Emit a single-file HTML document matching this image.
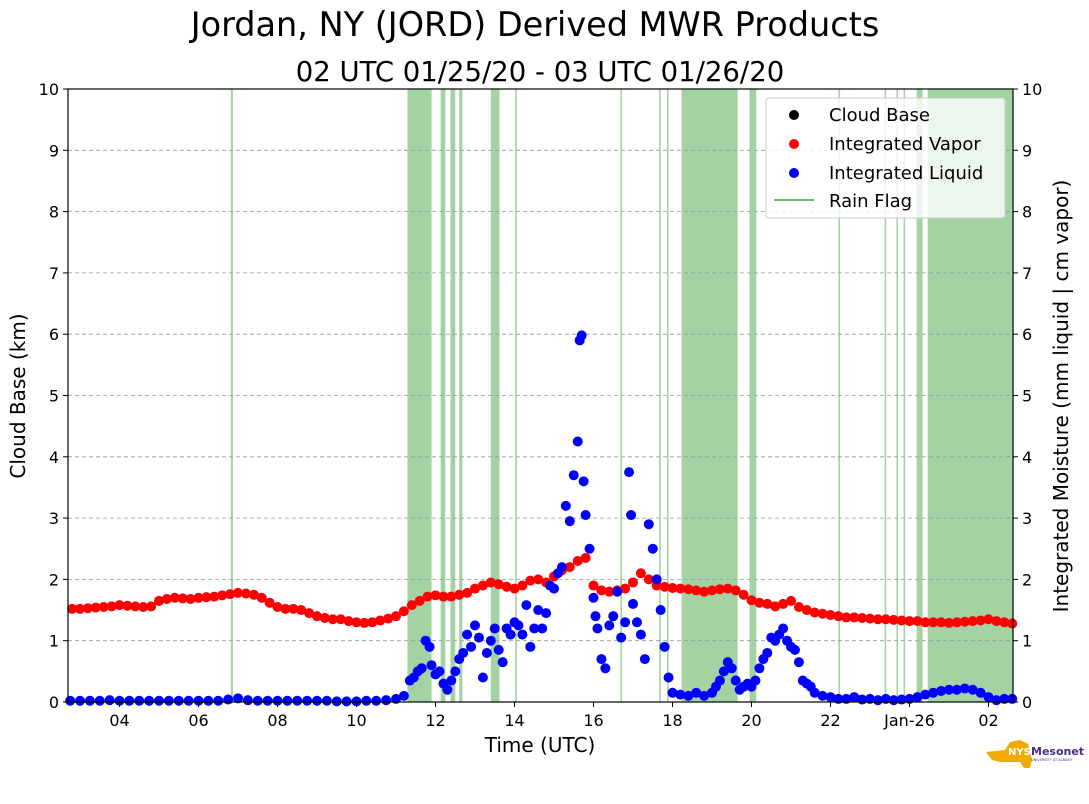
<!DOCTYPE html>
<html><head><meta charset="utf-8"><style>
html,body{margin:0;padding:0;background:#fff;}
svg{display:block;font-family:"DejaVu Sans","Liberation Sans",sans-serif;}
</style></head><body>
<svg id="chart" width="1089" height="804" viewBox="0 0 1089 804">
<text x="535" y="36" font-size="33.5" text-anchor="middle">Jordan, NY (JORD) Derived MWR Products</text>
<text x="540" y="81" font-size="27.5" text-anchor="middle">02 UTC 01/25/20 - 03 UTC 01/26/20</text>
<g id="bands"></g>
<g id="grid"></g>
<g id="marks"></g>
<rect x="68" y="89" width="945" height="613" fill="none" stroke="#000" stroke-width="1.2"/>
<g id="axes"></g>
<text x="540" y="752" font-size="20" text-anchor="middle">Time (UTC)</text>
<text transform="translate(25,396) rotate(-90)" font-size="20" text-anchor="middle">Cloud Base (km)</text>
<text transform="translate(1068,396) rotate(-90)" font-size="20" text-anchor="middle">Integrated Moisture (mm liquid | cm vapor)</text>
<g>
<rect x="766" y="98" width="239" height="120" rx="3" fill="#fff" fill-opacity="0.8" stroke="#ccc"/>
<g><circle cx="794" cy="115" r="5" fill="#000"/><text x="829" y="121" font-size="18">Cloud Base</text></g>
<g><circle cx="794" cy="144" r="5" fill="red"/><text x="829" y="150" font-size="18">Integrated Vapor</text></g>
<g><circle cx="794" cy="173" r="5" fill="blue"/><text x="829" y="179" font-size="18">Integrated Liquid</text></g>
<g><line x1="774" y1="200" x2="814" y2="200" stroke="#6abf69" stroke-width="2"/><text x="829" y="207" font-size="18">Rain Flag</text></g>
</g>
<g>
<path d="M986 752 L1005 750 L1010 742 L1020 740 L1028 744 L1032 760 L1030 768 L1024 768 L1020 762 L1000 762 L992 760 Z" fill="#f0ab00"/>
<text x="1008" y="755" font-size="10" font-weight="bold" fill="#fff">NYS</text>
<text x="1031" y="755" font-size="11" font-weight="bold" fill="#4b2e83">Mesonet</text>
<text x="1031" y="761" font-size="3.5" fill="#4b2e83">UNIVERSITY AT ALBANY</text>
</g>
</svg>
<script>
const xTickHours=[4,6,8,10,12,14,16,18,20,22,24,26];
const xTickLabels=["04","06","08","10","12","14","16","18","20","22","Jan-26","02"];
const yTicks=[0,1,2,3,4,5,6,7,8,9,10];
const rainBands=[[6.82,6.87],[11.29,11.9],[12.13,12.25],[12.38,12.5],[12.6,12.68],[13.4,13.62],[14.02,14.06],[16.68,16.72],[17.66,17.7],[17.86,17.9],[18.23,19.65],[19.95,20.12],[22.2,22.24],[23.37,23.41],[23.67,23.71],[23.85,23.89],[24.18,24.33],[24.46,26.62]];
const vaporStart=2.8, vaporStep=0.2;
const vaporValues=[1.52,
1.52,1.53,1.54,1.55,1.56,
1.58,1.57,1.56,1.55,1.56,
1.65,1.68,1.7,1.69,1.68,
1.7,1.71,1.72,1.74,1.76,
1.78,1.77,1.75,1.7,1.62,
1.55,1.52,1.52,1.5,1.45,
1.4,1.37,1.35,1.35,1.32,
1.3,1.29,1.3,1.33,1.36,
1.4,1.48,1.58,1.65,1.72,
1.74,1.72,1.72,1.75,1.78,
1.85,1.9,1.95,1.92,1.88,
1.85,1.9,1.98,2.0,1.95,
2.05,2.15,2.2,2.3,2.35,
1.9,1.82,1.8,1.82,1.85,
1.95,2.1,2.0,1.9,1.88,
1.86,1.85,1.84,1.82,1.8,
1.82,1.84,1.85,1.82,1.75,
1.66,1.62,1.6,1.56,1.6,
1.65,1.55,1.5,1.46,1.44,
1.42,1.4,1.38,1.38,1.37,
1.36,1.35,1.35,1.34,1.33,
1.32,1.32,1.3,1.3,1.3,
1.29,1.3,1.31,1.32,1.33,
1.35,1.32,1.3,1.28];
const liquidBaseTimes=[2.75,3,3.25,3.5,3.75,4,4.25,4.5,4.75,5,5.25,5.5,5.75,6,6.25,6.5,6.75,7,7.25,7.5,7.75,8,8.25,8.5,8.75,9,9.25,9.5,9.75,10,10.25,10.5,10.75,11];
const liquidBaseValues=[0.02,0.02,0.02,0.02,0.03,0.02,0.02,0.02,0.02,0.02,0.02,0.02,0.02,0.02,0.02,0.02,0.04,0.06,0.03,0.02,0.02,0.02,0.02,0.02,0.02,0.02,0.02,0.01,0.01,0.01,0.02,0.02,0.03,0.05];
const liquidTimes=[11.2,11.35,11.45,11.55,11.65,11.75,11.85,11.9,12.0,12.1,12.2,12.3,12.4,12.5,12.6,12.7,12.8,12.9,13.0,13.1,13.2,13.3,13.4,13.5,13.6,13.7,13.8,13.9,14.0,14.1,14.2,14.3,14.4,14.5,14.6,14.7,14.8,14.9,15.0,15.1,15.2,15.3,15.4,15.5,15.6,15.65,15.7,15.75,15.8,15.9,16.0,16.05,16.1,16.2,16.3,16.4,16.5,16.6,16.7,16.8,16.9,16.95,17.0,17.1,17.2,17.3,17.4,17.5,17.6,17.7,17.8,17.9,18.0,18.2,18.4,18.6,18.8,19.0,19.1,19.2,19.3,19.4,19.5,19.6,19.7,19.8,19.9,20.0,20.1,20.2,20.3,20.4,20.5,20.6,20.7,20.8,20.9,21.0,21.1,21.2,21.3,21.4,21.5,21.6,21.8,22.0,22.2,22.4,22.6,22.8,23.0,23.2,23.4,23.6,23.8,24.0,24.2,24.4,24.6,24.8,25.0,25.2,25.4,25.6,25.8,26.0,26.2,26.4,26.6];
const liquidValues=[0.1,0.35,0.4,0.5,0.55,1.0,0.9,0.6,0.45,0.5,0.3,0.2,0.35,0.5,0.7,0.8,1.1,0.9,1.25,1.05,0.4,0.8,1.0,1.2,0.85,0.65,1.2,1.1,1.3,1.25,1.1,1.58,0.9,1.2,1.5,1.2,1.45,1.9,1.85,2.1,2.2,3.2,2.95,3.7,4.25,5.9,5.98,3.6,3.05,2.5,1.7,1.4,1.2,0.7,0.55,1.25,1.4,1.8,1.05,1.3,3.75,3.05,1.6,1.3,1.1,0.7,2.9,2.5,2.0,1.5,0.9,0.4,0.15,0.12,0.1,0.15,0.1,0.15,0.25,0.35,0.5,0.65,0.55,0.35,0.2,0.25,0.3,0.25,0.35,0.55,0.7,0.8,1.05,1.0,1.1,1.2,1.0,0.9,0.85,0.65,0.35,0.3,0.25,0.15,0.1,0.08,0.05,0.05,0.08,0.04,0.05,0.03,0.05,0.03,0.04,0.05,0.08,0.12,0.15,0.18,0.2,0.2,0.22,0.2,0.15,0.08,0.03,0.05,0.05];
const X0=68,X1=1013,Y0=702,Y1=89,TMIN=2.696,TMAX=26.62;
function xs(t){return X0+(t-TMIN)/(TMAX-TMIN)*(X1-X0);}
function ys(v){return Y0-v/10*(Y0-Y1);}
const NS="http://www.w3.org/2000/svg";
function mk(tag,attrs,parent){const e=document.createElementNS(NS,tag);for(const k in attrs)e.setAttribute(k,attrs[k]);parent.appendChild(e);return e;}
const bands=document.getElementById('bands'),grid=document.getElementById('grid'),marks=document.getElementById('marks'),axes=document.getElementById('axes');
rainBands.forEach(b=>{const x=xs(b[0]),w=Math.max(1.5,xs(b[1])-x);
const r=mk('rect',{x:x,y:Y1,width:w,height:Y0-Y1,fill:'#a3d3a3'},bands);

});
yTicks.forEach(v=>{const y=ys(v);
if(v>0&&v<10){const g=mk('line',{x1:X0,x2:X1,y1:y,y2:y,stroke:'#999','stroke-dasharray':'4,3','stroke-width':0.8},grid);

}
mk('line',{x1:X0-5,x2:X0,y1:y,y2:y,stroke:'#000'},axes);
mk('line',{x1:X1,x2:X1+5,y1:y,y2:y,stroke:'#000'},axes);
const l=mk('text',{x:X0-9,y:y+6,'font-size':16,'text-anchor':'end'},axes);l.textContent=v;


const r=mk('text',{x:X1+9,y:y+6,'font-size':16},axes);r.textContent=v;

});
xTickHours.forEach((h,i)=>{const x=xs(h);mk('line',{x1:x,x2:x,y1:Y0,y2:Y0+5,stroke:'#000'},axes);
const t=mk('text',{x:x,y:Y0+24,'font-size':16,'text-anchor':'middle'},axes);t.textContent=xTickLabels[i];

});
vaporValues.forEach((v,i)=>{const c=mk('circle',{cx:xs(vaporStart+i*vaporStep),cy:ys(v),r:5,fill:'red'},marks);

});
liquidBaseValues.forEach((v,i)=>{const c=mk('circle',{cx:xs(liquidBaseTimes[i]),cy:ys(v),r:5,fill:'blue'},marks);

});
liquidValues.forEach((v,i)=>{const c=mk('circle',{cx:xs(liquidTimes[i]),cy:ys(v),r:5,fill:'blue'},marks);

});
</script>
</body></html>
